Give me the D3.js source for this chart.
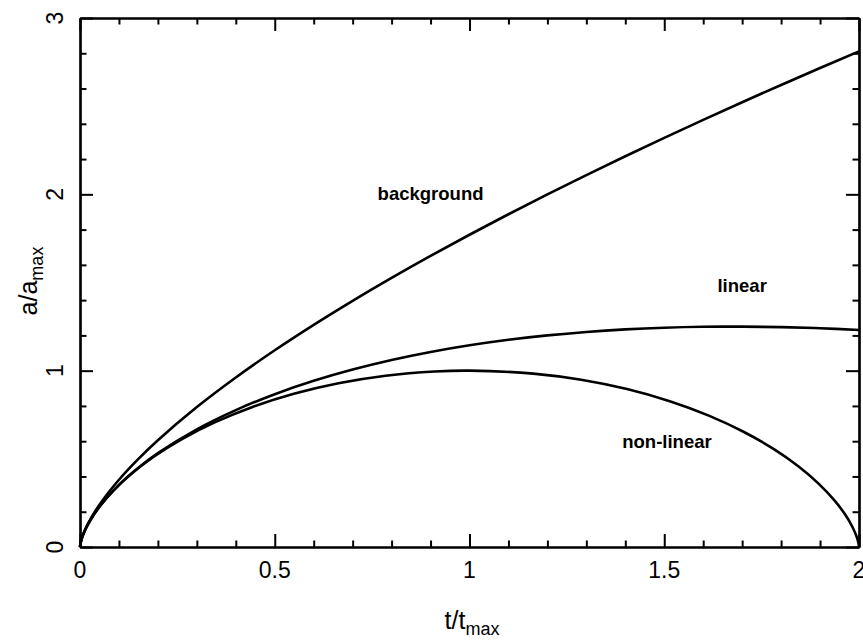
<!DOCTYPE html>
<html><head><meta charset="utf-8">
<script src="https://cdn.jsdelivr.net/npm/d3@7"></script>
<style>body{margin:0;background:#fff}svg{display:block}</style>
</head><body>
<svg id="c" width="863" height="641"></svg>
<script>
// Data
const xMajorTicks = [0, 0.5, 1, 1.5, 2];
const xTickLabels = ["0", "0.5", "1", "1.5", "2"];
const yMajorTicks = [0, 1, 2, 3];
const yTickLabels = ["0", "1", "2", "3"];

const tGrid = [0, 0.001, 0.005, 0.01, 0.02, 0.05, 0.1, 0.15, 0.2, 0.3, 0.4, 0.5, 0.6, 0.7, 0.8, 0.9, 1.0,
  1.1, 1.2, 1.3, 1.4, 1.5, 1.6, 1.7, 1.8, 1.9, 2.0];
const backgroundA = [0, 0.0177, 0.0518, 0.0822, 0.1305, 0.2403, 0.3815, 0.4999, 0.6056, 0.7935, 0.9613, 1.1156,
  1.2598, 1.3961, 1.5261, 1.6508, 1.7708, 1.8870, 1.9996, 2.1092, 2.2162, 2.3205, 2.4225, 2.5223, 2.6203, 2.7164, 2.8110];
const linearA = [0, 0.0177, 0.0513, 0.0808, 0.1271, 0.2288, 0.3524, 0.4499, 0.5323, 0.6676, 0.7765, 0.8667,
  0.9424, 1.0063, 1.0603, 1.1058, 1.1437, 1.1749, 1.1999, 1.2195, 1.2339, 1.2436, 1.2488, 1.2499, 1.2471, 1.2406, 1.2307];
const nonlinearT = [0, 0.000424, 0.003368, 0.011255, 0.026306, 0.050462, 0.085295, 0.13196, 0.19112, 0.26297,
  0.34718, 0.44293, 0.54893, 0.66351, 0.78464, 0.91002, 1.0, 1.16359, 1.28677, 1.40434, 1.51415, 1.61435,
  1.70348, 1.78054, 1.84499, 1.89680, 1.93644, 1.96487, 1.98349, 1.99410, 1.99882, 2.0];
const nonlinearA = [0, 0.00997, 0.03947, 0.08733, 0.15165, 0.22985, 0.31882, 0.41502, 0.51460, 0.61360,
  0.70807, 0.79425, 0.86870, 0.92845, 0.97111, 0.99500, 1.0, 0.98340, 0.94838, 0.89549, 0.82682, 0.74513,
  0.65367, 0.55608, 0.45625, 0.35817, 0.26574, 0.18266, 0.11222, 0.05724, 0.01992, 0];

const labels = [
  {text: "background", t: 0.90, a: 1.968},
  {text: "linear", t: 1.70, a: 1.446},
  {text: "non-linear", t: 1.507, a: 0.561}
];

const L = 80, R = 859, T = 18, B = 547;
const x = d3.scaleLinear().domain([0, 2]).range([L, R]);
const y = d3.scaleLinear().domain([0, 3]).range([B, T]);
const svg = d3.select("#c");
const font = "'Liberation Sans', Arial, sans-serif";

const xMinor = d3.range(0, 2.0001, 0.1).map(v => +v.toFixed(2)).filter(v => !xMajorTicks.includes(v));
const yMinor = d3.range(0, 3.0001, 0.2).map(v => +v.toFixed(2)).filter(v => !yMajorTicks.includes(v));

function addAxis(gen, tx, ty, values, size) {
  const g = svg.append("g").attr("transform", `translate(${tx},${ty})`)
    .call(gen.tickValues(values).tickSizeInner(size).tickSizeOuter(0).tickFormat(""));
  g.selectAll("path").attr("stroke", "#000").attr("stroke-width", 2.2);
  g.selectAll("line").attr("stroke", "#000").attr("stroke-width", 2);
  return g;
}
// Bottom / top / left / right, ticks pointing inwards
addAxis(d3.axisBottom(x), 0, B, xMajorTicks, -13);
addAxis(d3.axisBottom(x), 0, B, xMinor, -6.5);
addAxis(d3.axisTop(x), 0, T, xMajorTicks, -13);
addAxis(d3.axisTop(x), 0, T, xMinor, -6.5);
addAxis(d3.axisLeft(y), L, 0, yMajorTicks, -13);
addAxis(d3.axisLeft(y), L, 0, yMinor, -6.5);
addAxis(d3.axisRight(y), R, 0, yMajorTicks, -13);
addAxis(d3.axisRight(y), R, 0, yMinor, -6.5);

// Tick labels
svg.append("g").selectAll("text").data(xMajorTicks).join("text")
  .attr("x", d => x(d)).attr("y", 578)
  .attr("text-anchor", "middle").attr("font-family", font).attr("font-size", 23)
  .text((d, i) => xTickLabels[i]);
svg.append("g").selectAll("text").data(yMajorTicks).join("text")
  .attr("transform", d => `translate(63,${y(d)}) rotate(-90)`)
  .attr("text-anchor", "middle").attr("font-family", font).attr("font-size", 23)
  .text((d, i) => yTickLabels[i]);

// Axis titles
const xt = svg.append("text").attr("x", 472).attr("y", 629).attr("text-anchor", "middle")
  .attr("font-family", font).attr("font-size", 25);
xt.append("tspan").text("t/t");
xt.append("tspan").attr("font-size", 18).attr("dy", 6).text("max");

const yt = svg.append("text").attr("transform", "translate(37,281) rotate(-90)").attr("text-anchor", "middle")
  .attr("font-family", font).attr("font-size", 25);
yt.append("tspan").text("a/a");
yt.append("tspan").attr("font-size", 18).attr("dy", 6).text("max");

// Curves
const line = d3.line().x(d => x(d[0])).y(d => y(d[1])).curve(d3.curveCatmullRom);
const series = [
  d3.zip(tGrid, backgroundA),
  d3.zip(tGrid, linearA),
  d3.zip(nonlinearT, nonlinearA)
];
svg.append("g").selectAll("path").data(series).join("path")
  .attr("d", line).attr("fill", "none").attr("stroke", "#000").attr("stroke-width", 2.6);

// Curve labels
svg.append("g").selectAll("text").data(labels).join("text")
  .attr("x", d => x(d.t)).attr("y", d => y(d.a))
  .attr("text-anchor", "middle").attr("font-family", font).attr("font-size", 18.5).attr("font-weight", "bold")
  .text(d => d.text);
</script>
</body></html>
